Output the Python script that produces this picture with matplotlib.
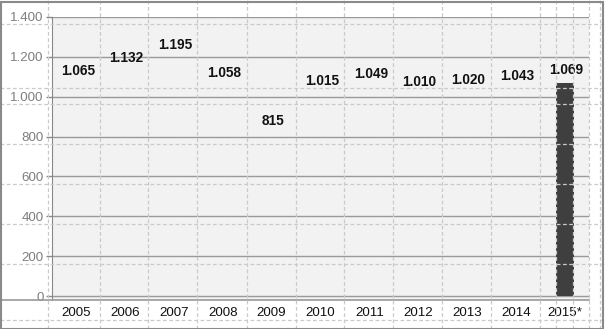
import matplotlib
matplotlib.use("Agg")
import matplotlib.pyplot as plt
from matplotlib.lines import Line2D
from matplotlib.patches import Rectangle

years = ["2005", "2006", "2007", "2008", "2009", "2010", "2011", "2012", "2013", "2014", "2015*"]
values = [1065, 1132, 1195, 1058, 815, 1015, 1049, 1010, 1020, 1043, 1069]
value_labels = ["1.065", "1.132", "1.195", "1.058", "815", "1.015", "1.049", "1.010", "1.020", "1.043", "1.069"]
shown_bar = [False] * 10 + [True]
yticks = [0, 200, 400, 600, 800, 1000, 1200, 1400]
ytick_labels = ["0", "200", "400", "600", "800", "1.000", "1.200", "1.400"]

plt.rcParams['font.family'] = ['Liberation Sans', 'DejaVu Sans']

W, H = 606, 329
fig = plt.figure(figsize=(W / 100, H / 100), dpi=100)
fig.patch.set_facecolor("white")

ax = fig.add_axes([52 / W, (H - 300) / H, (589 - 52) / W, (300 - 17) / H])
ax.set_facecolor("#f2f2f2")

xs = list(range(len(years)))
for x, v, show in zip(xs, values, shown_bar):
    ax.bar(x, v, width=0.37, color="#3f3f3f" if show else "none", zorder=3)
for x, v, lab in zip(xs, values, value_labels):
    ax.annotate(lab, (x, v), xytext=(1, 9), textcoords="offset points",
                ha="center", va="center", fontsize=9.8, fontweight="bold",
                color="#111111", zorder=5)

ax.set_xlim(-0.5, len(years) - 0.5)
ax.set_ylim(-20, 1400)
ax.set_yticks(yticks)
ax.set_yticklabels(ytick_labels)
ax.set_xticks(xs)
ax.set_xticklabels(years)
ax.yaxis.grid(True, color="#9a9a9a", linewidth=1, zorder=1)
ax.set_axisbelow(True)
ax.tick_params(axis="y", colors="#888888", length=4, width=1, labelsize=9.6, pad=2,
               labelcolor="#7f7f7f")
ax.tick_params(axis="x", length=0, labelsize=9.6, pad=5, labelcolor="#111111")
for s in ["top", "right"]:
    ax.spines[s].set_visible(False)
ax.spines["left"].set_color("#888888")
ax.spines["bottom"].set_visible(False)

# bottom axis line across figure
fig.add_artist(Line2D([0, 589 / W], [(H - 300) / H] * 2, color="#999999", lw=1.2, zorder=4))

# decorative dashed table grid overlay
dash_kw = dict(color="#cacaca", lw=0.9, linestyle=(0, (3, 2)), zorder=10)
for yp in [24, 88, 104, 144, 184, 224, 264, 320]:
    fig.add_artist(Line2D([0, 1], [(H - yp) / H] * 2, **dash_kw))
for xp in [48, 100, 148, 197, 247, 296, 344, 393, 442, 491, 540, 556, 573, 589, 600]:
    fig.add_artist(Line2D([xp / W] * 2, [0, 1], **dash_kw))

# outer frame
fig.add_artist(Rectangle((0.5 / W, 0.5 / H), (W - 3.5) / W, (H - 2.5) / H,
                         transform=fig.transFigure, fill=False,
                         edgecolor="#8a8a8a", lw=1.5, zorder=11))

fig.savefig("out.png", dpi=100)
